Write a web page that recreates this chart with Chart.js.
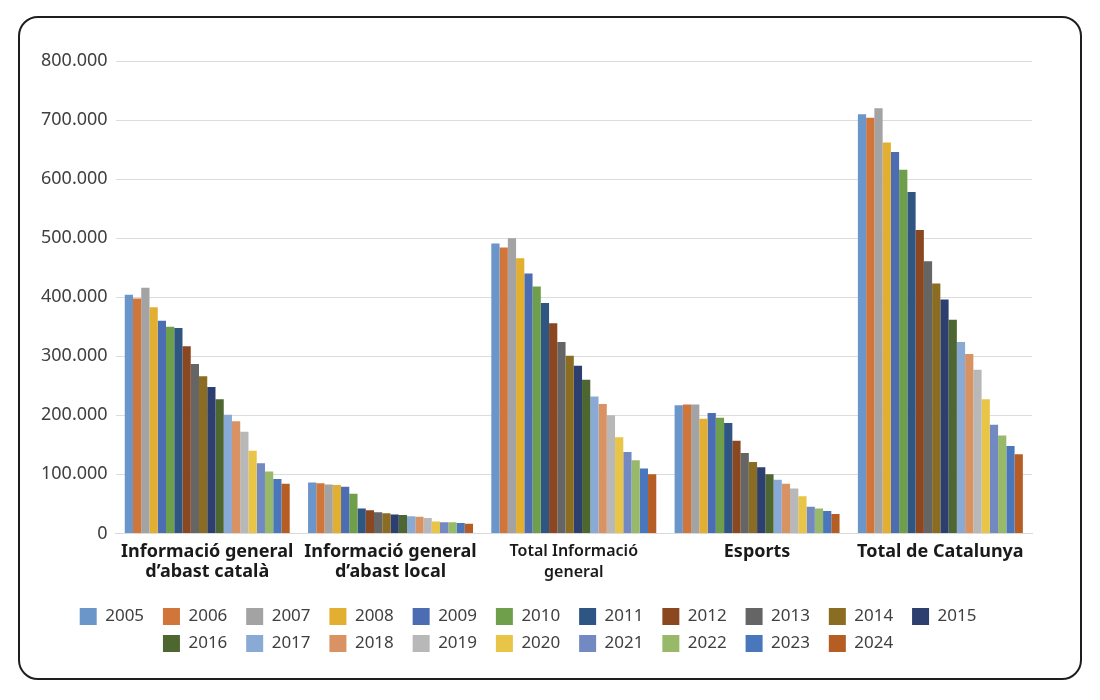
<!DOCTYPE html>
<html>
<head>
<meta charset="utf-8">
<title>Diaris</title>
<script src="https://cdn.jsdelivr.net/npm/chart.js@4.4.1/dist/chart.umd.min.js"></script>
<style>
  body { margin: 0; background: #fff; }
  #box {
    position: absolute; left: 18px; top: 16px;
    width: 1060px; height: 660px;
    border: 2px solid #1e1e1e; border-radius: 20px;
  }
  #wrap { position: absolute; left: 0; top: 0; width: 1060px; height: 660px; }
</style>
</head>
<body>
<div id="box"><div id="wrap"><canvas id="myBarChart"></canvas></div></div>
<script>
// categories (x axis)
const categories = [
  ['Informació general', 'd\u2019abast català'],
  ['Informació general', 'd\u2019abast local'],
  ['Total Informació', 'general'],
  'Esports',
  'Total de Catalunya'
];

const years = ['2005','2006','2007','2008','2009','2010','2011','2012','2013','2014',
               '2015','2016','2017','2018','2019','2020','2021','2022','2023','2024'];

// values per year: [abast català, abast local, total info general, esports, total Catalunya]
const v2005 = [404000, 86000, 491000, 217000, 710000];
const v2006 = [398000, 85000, 484000, 218500, 704000];
const v2007 = [416000, 83000, 500000, 218500, 720000];
const v2008 = [383000, 82000, 466000, 194000, 662000];
const v2009 = [360000, 79000, 440000, 204000, 646000];
const v2010 = [350000, 67000, 418000, 196000, 616000];
const v2011 = [348000, 42000, 390000, 187000, 578000];
const v2012 = [317000, 39000, 356000, 157000, 514000];
const v2013 = [287000, 36000, 324000, 136000, 461000];
const v2014 = [266000, 34000, 301000, 121000, 423000];
const v2015 = [248000, 32000, 284000, 112000, 396000];
const v2016 = [227000, 31000, 260000, 100000, 362000];
const v2017 = [201000, 29000, 232000, 91000, 324000];
const v2018 = [190000, 28000, 219000, 84000, 304000];
const v2019 = [172000, 26000, 200000, 76000, 277000];
const v2020 = [140000, 20000, 163000, 63000, 227000];
const v2021 = [119000, 19000, 138000, 45000, 184000];
const v2022 = [105000, 19000, 124000, 42000, 166000];
const v2023 = [92000, 17500, 110000, 38000, 148000];
const v2024 = [84000, 16500, 100000, 33000, 134000];

const values = [v2005, v2006, v2007, v2008, v2009, v2010, v2011, v2012, v2013, v2014,
                v2015, v2016, v2017, v2018, v2019, v2020, v2021, v2022, v2023, v2024];

const colors = ['#6b96c9','#d0763a','#a3a3a3','#e3af31','#4d6db3','#6f9f4b','#2f5583','#8b4720',
                '#656565','#8a6d22','#2d3f6f','#4e6630','#8aaad6','#d99362','#b8b8b8','#e8c447',
                '#7389c2','#98b96a','#4a77bb','#b55d22'];

const datasets = years.map(function (y, i) {
  return {
    label: y,
    data: values[i],
    backgroundColor: colors[i],
    borderWidth: 0,
    categoryPercentage: 0.9,
    barPercentage: 1.0
  };
});

function dots(n) {
  return String(n).replace(/\B(?=(\d{3})+(?!\d))/g, '.');
}

Chart.defaults.font.family = '"Noto Sans", sans-serif';

const myChart = new Chart(document.getElementById('myBarChart'), {
  type: 'bar',
  data: { labels: categories, datasets: datasets },
  options: {
    responsive: true,
    maintainAspectRatio: false,
    animation: false,
    layout: { padding: { left: 13, right: 48, top: 43, bottom: 16 } },
    plugins: {
      tooltip: { enabled: false },
      legend: {
        position: 'bottom',
        labels: {
          boxWidth: 17,
          boxHeight: 17,
          padding: 10,
          color: '#404040',
          font: { size: 17 },
          // a little extra room after each year so the items sit as wide apart as in the original
          generateLabels: function (chart) {
            const items = Chart.defaults.plugins.legend.labels.generateLabels(chart);
            items.forEach(function (it) { it.text = it.text + '  '; });
            return items;
          }
        }
      }
    },
    scales: {
      x: {
        grid: { display: false, drawTicks: false },
        border: { display: true, color: '#d9d9d9' },
        afterFit: function (axis) { axis.height += 7; },
        ticks: {
          color: '#1a1a1a',
          maxRotation: 0,
          autoSkip: false,
          padding: 8,
          font: function (ctx) {
            if (ctx.index === 2) return { size: 16, weight: '600', lineHeight: 1.3 };
            return { size: 18, weight: 'bold', lineHeight: 1.12 };
          }
        }
      },
      y: {
        min: 0,
        max: 800000,
        border: { display: false },
        grid: { color: '#dcdcdc', drawTicks: false },
        ticks: {
          stepSize: 100000,
          color: '#404040',
          padding: 8,
          font: { size: 18 },
          callback: function (v) { return dots(v); }
        }
      }
    }
  }
});
</script>
</body>
</html>
